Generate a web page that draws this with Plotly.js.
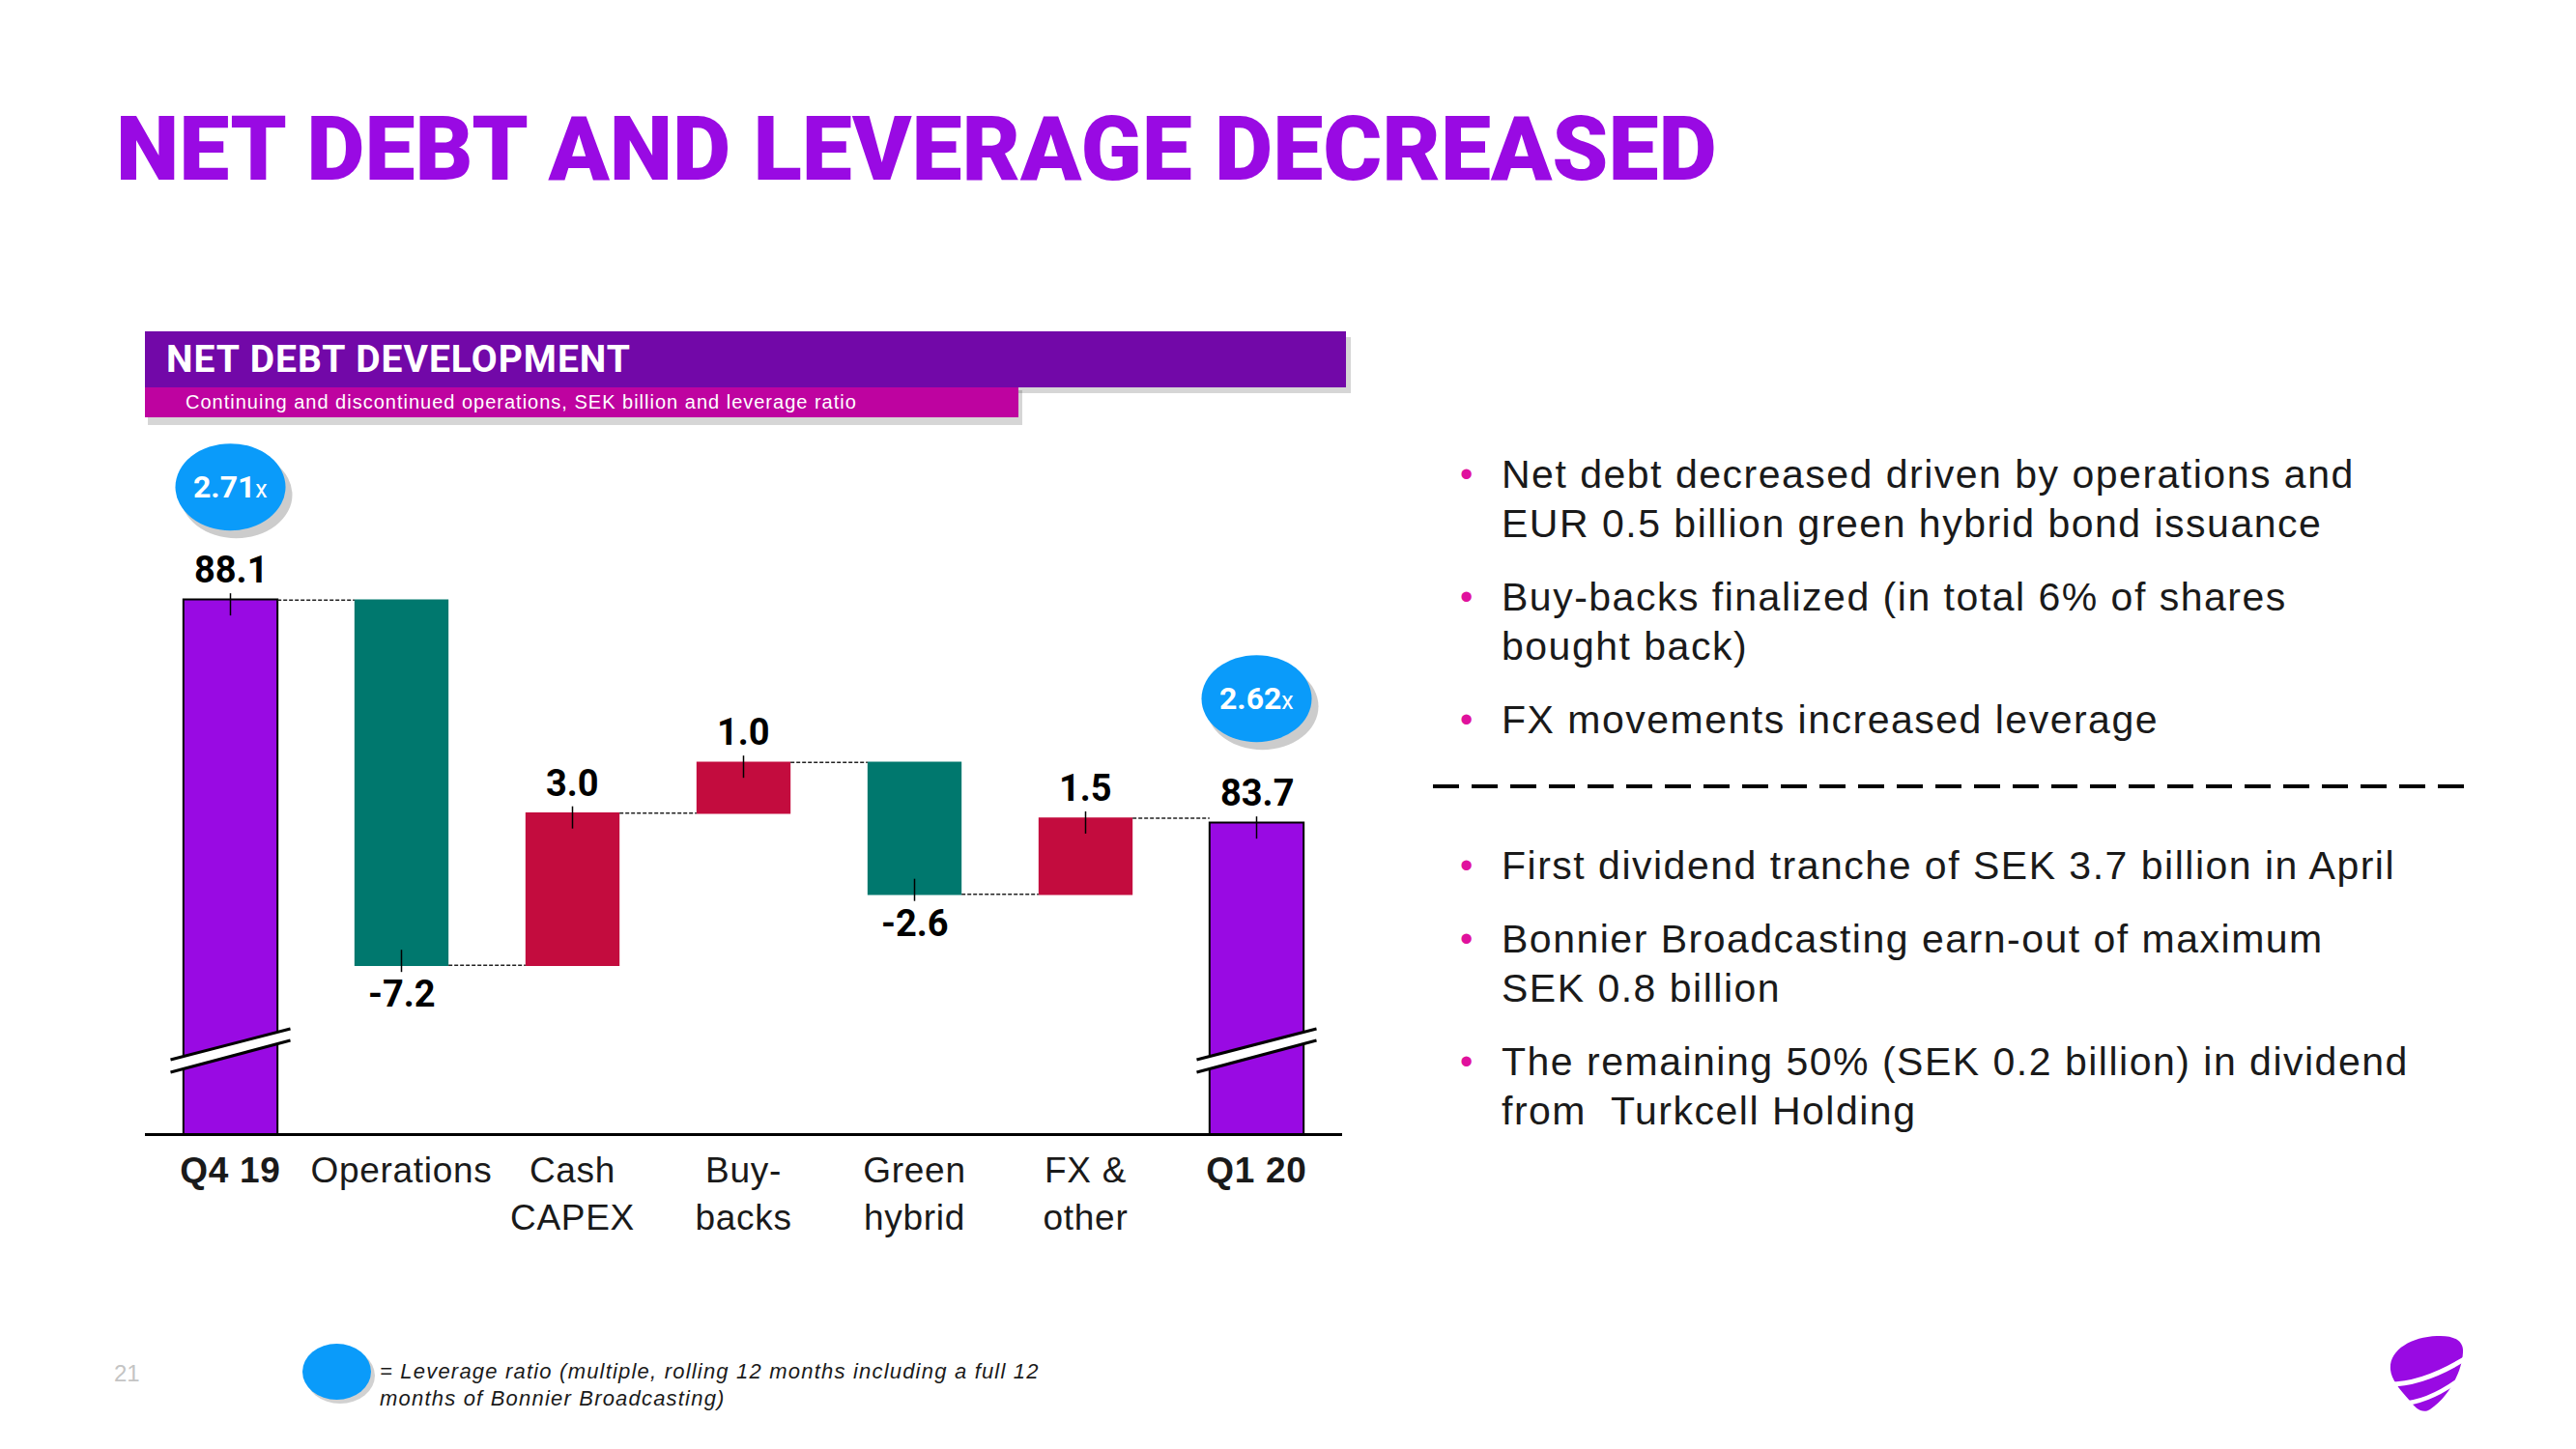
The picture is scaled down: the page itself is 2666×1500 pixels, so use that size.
<!DOCTYPE html>
<html><head><meta charset="utf-8">
<script src="https://cdn.plot.ly/plotly-3.0.1.min.js"></script>
<style>html,body{margin:0;padding:0;background:#fff;} #chart{width:2666px;height:1500px;} .xtick text{letter-spacing:0.7px;}</style>
</head><body><div id="chart"></div>
<script>
// ---------- data ----------
const categories = ['Q4 19','Operations','Cash CAPEX','Buy-backs','Green hybrid','FX & other','Q1 20'];
const tickLabels = ['<b>Q4 19</b>','Operations','Cash<br>CAPEX','Buy-<br>backs','Green<br>hybrid','FX &amp;<br>other','<b>Q1 20</b>'];
const measures = ['absolute','relative','relative','relative','relative','relative','absolute'];
const values = [88.1, -7.2, 3.0, 1.0, -2.6, 1.5, 83.7];
const leverageCats = ['Q4 19','Q1 20'];
const leverageValues = ['2.71','2.62'];
const notesTop = [
  ['Net debt decreased driven by operations and','EUR 0.5 billion green hybrid bond issuance'],
  ['Buy-backs finalized (in total 6% of shares','bought back)'],
  ['FX movements increased leverage']
];
const notesBottom = [
  ['First dividend tranche of SEK 3.7 billion in April'],
  ['Bonnier Broadcasting earn-out of maximum','SEK 0.8 billion'],
  ['The remaining 50% (SEK 0.2 billion) in dividend','from  Turkcell Holding']
];
const chartTitle = 'NET DEBT AND LEVERAGE DECREASED';
const panelTitle = 'NET DEBT DEVELOPMENT';
const panelSubtitle = 'Continuing and discontinued operations, SEK billion and leverage ratio';
const footnoteLines = ['= Leverage ratio (multiple, rolling 12 months including a full 12','months of Bonnier Broadcasting)'];
const pageNumber = '21';

// ---------- style ----------
const PURPLE = '#990AE3', TEAL = '#00786E', RED = '#C30C3E', BLUE = '#0A9BFA';
const HEAD_BG = '#7208A8', SUB_BG = '#BE03A0', PINK = '#E0119D';
const L = 150, R = 1389, T = 440, B = 1173, W = R - L, H = B - T;
const px = X => (X - L) / W;
const py = Y => (B - Y) / H;
const yLow = 77.59, yHigh = 91.55;
const bubbleLift = [117, 129];

// running totals
const ends = []; let run = 0;
values.forEach((v, i) => { run = measures[i] === 'absolute' ? v : run + v; ends.push(run); });

const shapes = [];
const annotations = [];
const spacing = []; // letter-spacing per annotation (px)
function ann(a, ls) { annotations.push(a); spacing.push(ls || 0); }

// panel header bars with shadow
shapes.push({type:'rect', xref:'paper', yref:'paper', x0:px(153), x1:px(1398), y0:py(349), y1:py(407), fillcolor:'rgba(0,0,0,0.16)', line:{width:0}});
shapes.push({type:'rect', xref:'paper', yref:'paper', x0:px(153), x1:px(1058), y0:py(404), y1:py(440), fillcolor:'rgba(0,0,0,0.16)', line:{width:0}});
shapes.push({type:'rect', xref:'paper', yref:'paper', x0:px(150), x1:px(1393), y0:py(343), y1:py(401), fillcolor:HEAD_BG, line:{width:0}});
shapes.push({type:'rect', xref:'paper', yref:'paper', x0:px(150), x1:px(1054), y0:py(401), y1:py(432), fillcolor:SUB_BG, line:{width:0}});
ann({xref:'paper', yref:'paper', x:px(170), y:py(372), xanchor:'left', yanchor:'middle', showarrow:false,
  text:'<b>'+panelTitle+'</b>', font:{family:'Roboto, Arial', size:39, color:'#fff', weight:900}}, 1);
ann({xref:'paper', yref:'paper', x:px(190), y:py(416), xanchor:'left', yanchor:'middle', showarrow:false,
  text:panelSubtitle, font:{family:'Liberation Sans, Arial', size:20, color:'#fff'}}, 1);

// value labels + leader ticks
values.forEach((v, i) => {
  const up = measures[i] === 'absolute' || v > 0;
  ann({xref:'x', yref:'y', x:i, y:ends[i], yshift: up ? 31 : -30, showarrow:false,
    xanchor:'center', yanchor:'middle', text:'<b>'+v.toFixed(1)+'</b>',
    font:{family:'Roboto, Arial', size:38, color:'#000'}});
  shapes.push({type:'line', xref:'x', yref:'y', x0:i, x1:i, ysizemode:'pixel', yanchor:ends[i],
    y0: up ? -16 : 16, y1: up ? 7 : -7, line:{color:'#000', width:1.5}});
});

// axis break marks on absolute bars
measures.forEach((m, i) => {
  if (m !== 'absolute') return;
  shapes.push({type:'path', xref:'x', xsizemode:'pixel', xanchor:i, yref:'paper', ysizemode:'pixel', yanchor:0,
    path:'M -62,63 L 62,96 L 62,108 L -62,76 Z', fillcolor:'#fff', line:{width:0}});
  shapes.push({type:'line', xref:'x', xsizemode:'pixel', xanchor:i, yref:'paper', ysizemode:'pixel', yanchor:0,
    x0:-62, x1:62, y0:76, y1:108, line:{color:'#000', width:3}});
  shapes.push({type:'line', xref:'x', xsizemode:'pixel', xanchor:i, yref:'paper', ysizemode:'pixel', yanchor:0,
    x0:-62, x1:62, y0:63, y1:96, line:{color:'#000', width:3}});
});

// leverage bubbles
leverageCats.forEach((c, k) => {
  const i = categories.indexOf(c), lift = bubbleLift[k];
  shapes.push({type:'circle', xref:'x', xsizemode:'pixel', xanchor:i, x0:-52, x1:64,
    yref:'y', ysizemode:'pixel', yanchor:ends[i], y0:lift-53, y1:lift+37, fillcolor:'rgba(0,0,0,0.2)', line:{width:0}});
  shapes.push({type:'circle', xref:'x', xsizemode:'pixel', xanchor:i, x0:-57, x1:57,
    yref:'y', ysizemode:'pixel', yanchor:ends[i], y0:lift-45, y1:lift+45, fillcolor:BLUE, line:{width:0}});
  ann({xref:'x', yref:'y', x:i, y:ends[i], yshift:lift, showarrow:false, xanchor:'center', yanchor:'middle',
    text:'<b>'+leverageValues[k]+'</b><span style="font-size:25px">x</span>',
    font:{family:'Roboto, Arial', size:32, color:'#fff'}});
});

// right-hand notes
function addNotes(groups, startY) {
  let y = startY;
  groups.forEach((lines) => {
    ann({xref:'paper', yref:'paper', x:px(1517), y:py(y), xanchor:'center', yanchor:'middle', showarrow:false,
      text:'•', font:{family:'Liberation Sans, Arial', size:38, color:PINK}});
    lines.forEach((t, j) => {
      ann({xref:'paper', yref:'paper', x:px(1552), y:py(y), xanchor:'left', yanchor:'middle', showarrow:false,
        text:t, font:{family:'Liberation Sans, Arial', size:41, color:'#1a1a1a'}}, 1.5);
      if (j < lines.length - 1) y += 51;
    });
    y += 76;
  });
}
addNotes(notesTop, 491);
addNotes(notesBottom, 896);
shapes.push({type:'line', xref:'paper', yref:'paper', x0:px(1483), x1:px(2562), y0:py(814), y1:py(814),
  line:{color:'#000', width:4, dash:'27px,13px'}});

// footnote legend
shapes.push({type:'circle', xref:'paper', yref:'paper', x0:px(316), x1:px(388), y0:py(1395), y1:py(1453), fillcolor:'rgba(0,0,0,0.18)', line:{width:0}});
shapes.push({type:'circle', xref:'paper', yref:'paper', x0:px(313), x1:px(384), y0:py(1391), y1:py(1449), fillcolor:BLUE, line:{width:0}});
footnoteLines.forEach((t, j) => {
  ann({xref:'paper', yref:'paper', x:px(391), y:py(1419 + j*28), xanchor:'left', yanchor:'middle', showarrow:false,
    text:'<i>'+t+'</i>', font:{family:'Liberation Sans, Arial', size:22, color:'#1a1a1a'}}, 1.2);
});
ann({xref:'paper', yref:'paper', x:px(131), y:py(1421), xanchor:'center', yanchor:'middle', showarrow:false,
  text:pageNumber, font:{family:'Liberation Sans, Arial', size:24, color:'#C4C4C4'}});

// logo
function P(pts){ return pts.map(s => s.replace(/(-?\d+(?:\.\d+)?),(-?\d+(?:\.\d+)?)/g, (m,a,b)=> px(+a).toFixed(5)+','+py(+b).toFixed(5))).join(' '); }
shapes.push({type:'path', xref:'paper', yref:'paper', fillcolor:PURPLE, line:{width:0},
  path:P(['M 2474,1418','C 2472,1398 2495,1384 2522,1383','C 2540,1382 2550,1388 2549,1400','C 2548,1420 2535,1445 2515,1459','C 2507,1464 2500,1458 2494,1450','C 2483,1438 2475,1428 2474,1418 Z'])});
shapes.push({type:'path', xref:'paper', yref:'paper', line:{color:'#fff', width:5},
  path:P(['M 2470,1433','Q 2508,1434 2555,1404'])});
shapes.push({type:'path', xref:'paper', yref:'paper', line:{color:'#fff', width:4.5},
  path:P(['M 2484,1453','Q 2515,1452 2552,1423'])});

const trace = {
  type:'waterfall', x:categories, y:values, measure:measures,
  textinfo:'none', hoverinfo:'skip',
  increasing:{marker:{color:RED}},
  decreasing:{marker:{color:TEAL}},
  totals:{marker:{color:PURPLE, line:{color:'#000', width:2}}},
  connector:{mode:'between', line:{color:'#222', width:1.5, dash:'4px,2px'}}
};

const layout = {
  width:2666, height:1500,
  margin:{l:L, r:2666-R, t:T, b:1500-B, pad:0},
  paper_bgcolor:'#fff', plot_bgcolor:'#fff',
  showlegend:false,
  waterfallgap:0.45,
  title:{text:chartTitle, xref:'container', yref:'container', x:120/2666, xanchor:'left', y:1-153/1500, yanchor:'middle',
    font:{family:'Roboto, Arial', size:93, color:PURPLE, weight:900}},
  xaxis:{type:'category', tickvals:categories, ticktext:tickLabels, showline:true, linecolor:'#000', linewidth:3,
    ticks:'', showgrid:false, zeroline:false, fixedrange:true, ticklabelstandoff:4,
    tickfont:{family:'Liberation Sans, Arial', size:37, color:'#1a1a1a'}},
  yaxis:{range:[yLow, yHigh], visible:false, showgrid:false, zeroline:false, fixedrange:true},
  shapes:shapes, annotations:annotations
};

// letter-spacing for left-anchored texts, keeping their left edge in place
function applySpacing() {
  document.querySelectorAll('#chart g.annotation').forEach(g => {
    const i = +g.getAttribute('data-index');
    if (!spacing[i]) return;
    const t = g.querySelector('text.annotation-text') || g.querySelector('text');
    if (!t) return;
    const before = t.getBBox();
    t.style.letterSpacing = spacing[i] + 'px';
    const after = t.getBBox();
    const dx = before.x - after.x;
    const prev = t.getAttribute('transform') || '';
    t.setAttribute('transform', (prev + ' translate(' + dx + ',0)').trim());
  });
}
Plotly.newPlot('chart', [trace], layout, {displayModeBar:false, staticPlot:true}).then(applySpacing);
</script>
</body></html>
